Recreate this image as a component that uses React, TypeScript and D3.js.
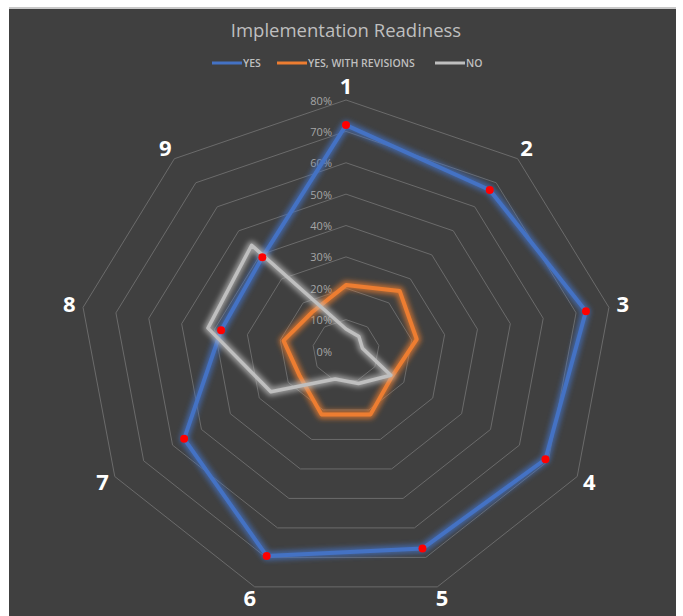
import React from "react";
import * as d3 from "d3";

const categories = ["1", "2", "3", "4", "5", "6", "7", "8", "9"];
const yesValues = [0.72, 0.67, 0.73, 0.69, 0.67, 0.695, 0.56, 0.38, 0.39];
const revisionValues = [0.21, 0.25, 0.215, 0.16, 0.215, 0.215, 0.16, 0.19, 0.16];
const noValues = [0.07, 0.06, 0.05, 0.155, 0.11, 0.095, 0.26, 0.42, 0.44];
const seriesNames = ["YES", "YES, WITH REVISIONS", "NO"];
const seriesColors = ["#4472C4", "#ED7D31", "#BFBFBF"];

const width = 683;
const height = 616;
const cx = 346;
const cy = 351;
const maxValue = 0.8;
const fontFamily = "'Open Sans', 'Liberation Sans', sans-serif";

// chart is a little wider than tall in the picture
const rx = d3.scaleLinear().domain([0, maxValue]).range([0, 267]);
const ry = d3.scaleLinear().domain([0, maxValue]).range([0, 251]);
const angle = d3
  .scaleLinear()
  .domain([0, categories.length])
  .range([0, 2 * Math.PI]);

const point = (i: number, v: number): [number, number] => [
  cx + rx(v) * Math.sin(angle(i)),
  cy - ry(v) * Math.cos(angle(i)),
];

const polygon = d3.line<[number, number]>().curve(d3.curveLinearClosed);
const ticks = d3.range(0, maxValue + 0.001, 0.1);
const pct = d3.format(".0%");

const series = [yesValues, revisionValues, noValues];
const lineWidths = [4, 4, 3.5];

export default function App() {
  const legendX = [212, 277, 435];
  return (
    <svg
      width={width}
      height={height}
      style={{ position: "absolute", left: 0, top: 0 }}
    >
      <defs>
        <filter id="glow" x="-20%" y="-20%" width="140%" height="140%">
          <feGaussianBlur stdDeviation="2.5" />
        </filter>
      </defs>
      <rect width={width} height={height} fill="#ffffff" />
      <rect x={9} y={7} width={667} height={2} fill="#c8c8c8" />
      <rect x={9} y={9} width={667} height={height - 9} fill="#404040" />

      <text
        x={cx}
        y={37}
        textAnchor="middle"
        fill="#bfbfbf"
        fontSize={18.5}
        fontFamily={fontFamily}
      >
        Implementation Readiness
      </text>

      {seriesNames.map((name, i) => (
        <g key={name}>
          <line
            x1={legendX[i]}
            x2={legendX[i] + 30}
            y1={63}
            y2={63}
            stroke={seriesColors[i]}
            strokeWidth={3}
          />
          <text
            x={legendX[i] + 31}
            y={63}
            dominantBaseline="central"
            fill="#bfbfbf"
            fontSize={10.5}
            fontWeight={600}
            fontFamily={fontFamily}
          >
            {name}
          </text>
        </g>
      ))}

      {ticks.slice(1).map((t) => (
        <path
          key={`ring${t}`}
          d={polygon(categories.map((_, i) => point(i, t))) || ""}
          fill="none"
          stroke="#6b6b6b"
          strokeWidth={1}
        />
      ))}

      {ticks.map((t) => (
        <text
          key={`tick${t}`}
          x={cx - 14}
          y={cy - ry(t)}
          textAnchor="end"
          dominantBaseline="central"
          fill="#a6a6a6"
          fontSize={11}
          fontFamily={fontFamily}
        >
          {pct(t)}
        </text>
      ))}

      {series.map((values, s) => {
        const d = polygon(values.map((v, i) => point(i, v))) || "";
        return (
          <g key={`series${s}`}>
            <path
              d={d}
              fill="none"
              stroke={seriesColors[s]}
              strokeOpacity={0.7}
              strokeWidth={lineWidths[s] + 5}
              strokeLinejoin="round"
              filter="url(#glow)"
            />
            <path
              d={d}
              fill="none"
              stroke={seriesColors[s]}
              strokeWidth={lineWidths[s]}
              strokeLinejoin="round"
            />
          </g>
        );
      })}

      {yesValues.map((v, i) => {
        const [x, y] = point(i, v);
        return <circle key={`dot${i}`} cx={x} cy={y} r={4} fill="#ff0000" />;
      })}

      {categories.map((c, i) => {
        const x = cx + (rx(maxValue) + 14) * Math.sin(angle(i));
        const y = cy - (ry(maxValue) + 13) * Math.cos(angle(i)) - 2;
        return (
          <text
            key={`cat${c}`}
            x={x}
            y={y}
            textAnchor="middle"
            dominantBaseline="central"
            fill="#ffffff"
            fontSize={22}
            fontWeight={700}
            fontFamily={fontFamily}
          >
            {c}
          </text>
        );
      })}
    </svg>
  );
}
